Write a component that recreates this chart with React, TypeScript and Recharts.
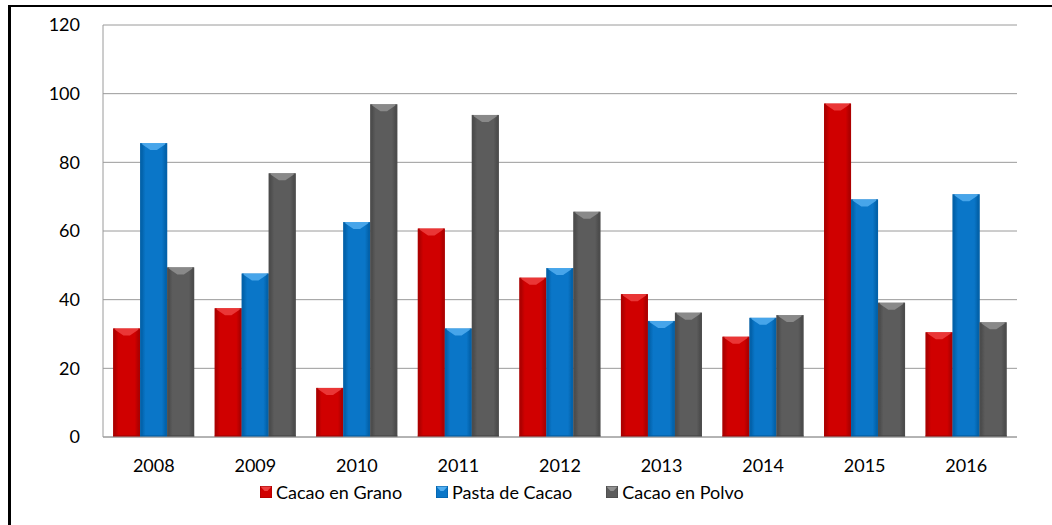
import React from 'react';
import { Bar, BarChart, CartesianGrid, Legend, XAxis, YAxis } from 'recharts';

const years = ['2008', '2009', '2010', '2011', '2012', '2013', '2014', '2015', '2016'];
const cacaoEnGrano = [31.6, 37.5, 14.3, 60.7, 46.4, 41.6, 29.2, 97.1, 30.5];
const pastaDeCacao = [85.6, 47.6, 62.6, 31.6, 49.2, 33.8, 34.7, 69.2, 70.7];
const cacaoEnPolvo = [49.4, 76.8, 96.9, 93.8, 65.6, 36.2, 35.5, 39.1, 33.4];
const yTicks = [0, 20, 40, 60, 80, 100, 120];

const seriesNames = ['Cacao en Grano', 'Pasta de Cacao', 'Cacao en Polvo'];

const data = years.map((year, i) => ({
  year,
  grano: cacaoEnGrano[i],
  pasta: pastaDeCacao[i],
  polvo: cacaoEnPolvo[i]
}));

type Palette = { id: string; edge: string; mid: string; top: string; side: string };

const RED: Palette = { id: 'red', edge: '#9e0000', mid: '#d00000', top: '#ee4040', side: '#b00000' };
const BLUE: Palette = { id: 'blue', edge: '#005a9e', mid: '#0a76c8', top: '#52aef0', side: '#0464ad' };
const GRAY: Palette = { id: 'gray', edge: '#454545', mid: '#5c5c5c', top: '#919191', side: '#4e4e4e' };

const FONT = 'Lato, "Open Sans", sans-serif';

function BevelBar(props: any) {
  const { x, y, width, height, pal } = props;
  if (!height || height <= 0) return null;
  const b = Math.min(7, height / 2);
  const s = 2;
  return (
    <g>
      <rect x={x} y={y} width={width} height={height} fill={`url(#grad-${pal.id})`} />
      <polygon
        points={`${x},${y} ${x + width},${y} ${x + width * 0.62},${y + b} ${x + width * 0.38},${y + b}`}
        fill={pal.top}
        opacity={0.85}
      />
      <rect x={x} y={y} width={s} height={height} fill={pal.side} opacity={0.7} />
      <rect x={x + width - s} y={y} width={s} height={height} fill={pal.side} opacity={0.7} />
      <rect x={x} y={y + height - 2} width={width} height={2} fill={pal.edge} opacity={0.6} />
    </g>
  );
}

function LegendIcon({ pal }: { pal: Palette }) {
  return (
    <svg width={12} height={12} style={{ marginRight: 4 }}>
      <rect x={0} y={0} width={12} height={12} fill={pal.mid} />
      <polygon points="0,0 12,0 7.5,5 4.5,5" fill={pal.top} />
      <rect x={0} y={0} width={12} height={12} fill="none" stroke={pal.edge} strokeWidth={1} />
    </svg>
  );
}

const palettes = [RED, BLUE, GRAY];

function renderLegend() {
  return (
    <div style={{ display: 'flex', alignItems: 'center', fontFamily: FONT, fontSize: 18, color: '#000' }}>
      {seriesNames.map((name, i) => (
        <div key={name} style={{ display: 'flex', alignItems: 'center', marginRight: 34 }}>
          <LegendIcon pal={palettes[i]} />
          <span>{name}</span>
        </div>
      ))}
    </div>
  );
}

export default function App() {
  return (
    <div
      style={{
        position: 'absolute',
        left: 8,
        top: 5,
        width: 1041,
        height: 518,
        borderLeft: '3px solid #000',
        borderTop: '2px solid #000',
        background: '#fff'
      }}
    >
      <BarChart
        width={1041}
        height={518}
        data={data}
        margin={{ top: 18, right: 35, left: 0, bottom: 8 }}
        barCategoryGap="10%"
        barGap={0}
      >
        <defs>
          {palettes.map((p) => (
            <linearGradient key={p.id} id={`grad-${p.id}`} x1="0" y1="0" x2="1" y2="0">
              <stop offset="0%" stopColor={p.edge} />
              <stop offset="20%" stopColor={p.mid} />
              <stop offset="80%" stopColor={p.mid} />
              <stop offset="100%" stopColor={p.edge} />
            </linearGradient>
          ))}
        </defs>
        <CartesianGrid vertical={false} stroke="#9a9a9a" strokeWidth={1} />
        <XAxis
          dataKey="year"
          height={44}
          tickLine={false}
          tickSize={0}
          tickMargin={22}
          axisLine={{ stroke: '#9a9a9a' }}
          tick={{ fill: '#000', fontSize: 18, fontFamily: FONT }}
        />
        <YAxis
          width={92}
          domain={[0, 120]}
          ticks={yTicks}
          tickLine={false}
          tickSize={0}
          tickMargin={23}
          axisLine={{ stroke: '#9a9a9a' }}
          tick={{ fill: '#000', fontSize: 18, fontFamily: FONT }}
        />
        <Legend
          verticalAlign="bottom"
          height={36}
          content={renderLegend}
          wrapperStyle={{ left: 249, width: 600 }}
        />
        <Bar dataKey="grano" name={seriesNames[0]} fill={RED.mid} isAnimationActive={false}
          shape={(p: any) => <BevelBar {...p} pal={RED} />} />
        <Bar dataKey="pasta" name={seriesNames[1]} fill={BLUE.mid} isAnimationActive={false}
          shape={(p: any) => <BevelBar {...p} pal={BLUE} />} />
        <Bar dataKey="polvo" name={seriesNames[2]} fill={GRAY.mid} isAnimationActive={false}
          shape={(p: any) => <BevelBar {...p} pal={GRAY} />} />
      </BarChart>
    </div>
  );
}
